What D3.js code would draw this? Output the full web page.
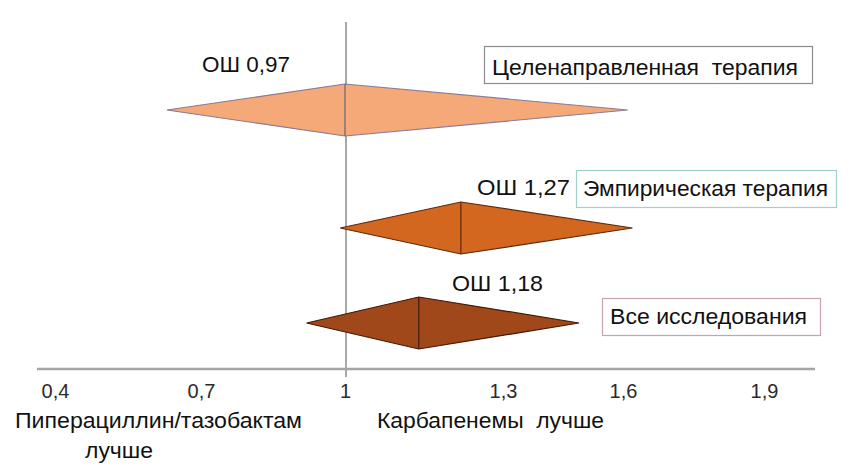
<!DOCTYPE html>
<html>
<head>
<meta charset="utf-8">
<script src="https://cdn.jsdelivr.net/npm/d3@7"></script>
<style>
  html, body { margin: 0; padding: 0; background: #fff; }
  svg { display: block; font-family: "Liberation Sans", Arial, sans-serif; }
  .tick text { font-size: 20px !important; font-family: "Liberation Sans", Arial, sans-serif; }
</style>
</head>
<body>
<svg id="chart" width="860" height="472"></svg>
<script>
// ---- data ----
const studies = ["Целенаправленная терапия", "Эмпирическая терапия", "Все исследования"];
const boxTexts = ["Целенаправленная  терапия", "Эмпирическая терапия", "Все исследования"];
const orLabels = ["ОШ 0,97", "ОШ 1,27", "ОШ 1,18"];
const ciLow = [0.63, 0.99, 0.92];
const pointEst = [1.00, 1.22, 1.14];
const ciHigh = [1.61, 1.62, 1.49];
const tickValues = [0.4, 0.7, 1, 1.3, 1.6, 1.9];
const tickLabels = ["0,4", "0,7", "1", "1,3", "1,6", "1,9"];
const leftSideLabel = ["Пиперациллин/тазобактам", "лучше"];
const rightSideLabel = "Карбапенемы  лучше";

// ---- styles / layout ----
const fills = ["#F5A878", "#D4671F", "#A1481A"];
const strokes = ["#8a7a94", "#5a2a0c", "#3e1a06"];
const midLines = ["#6e6e6e", "#6a2c0a", "#4a1e06"];
const boxStrokes = ["#8c8c8c", "#9fcfcf", "#c9a3ab"];
const halfH = 26;

const svg = d3.select("#chart");

// x: hand-drawn (non-uniform) axis reproduced with a polylinear scale
const x = d3.scaleLinear()
  .domain(tickValues)
  .range([55, 201, 345, 503, 623, 764]);

const y = d3.scaleOrdinal()
  .domain(studies)
  .range([110, 228, 323]);

const axisY = 369;

// reference vertical line (OR = 1)
svg.append("line")
  .attr("x1", x(1) + 1).attr("x2", x(1) + 1)
  .attr("y1", 22).attr("y2", axisY + 8)
  .attr("stroke", "#7a7a7a").attr("stroke-width", 1.3);

// axis baseline
svg.append("line")
  .attr("x1", x(0.4) - 18).attr("x2", x(1.9) + 51)
  .attr("y1", axisY).attr("y2", axisY)
  .attr("stroke", "#a5a5a5").attr("stroke-width", 2.5);

// axis tick labels
const axis = d3.axisBottom(x)
  .tickValues(tickValues)
  .tickFormat((d, i) => tickLabels[i])
  .tickSize(0);
const gAxis = svg.append("g")
  .attr("transform", `translate(0,${axisY})`)
  .call(axis);
gAxis.attr("font-size", 20)
  .attr("font-family", "'Liberation Sans', Arial, sans-serif");
gAxis.select(".domain").remove();
gAxis.selectAll("text")
  .attr("y", 29).attr("dy", 0)
  .attr("fill", "#2a2a2a");

// diamonds
const rows = studies.map((s, i) => ({
  study: s, lo: ciLow[i], pt: pointEst[i], hi: ciHigh[i], i
}));

const g = svg.append("g");
g.selectAll("polygon.diamond")
  .data(rows)
  .join("polygon")
  .attr("class", "diamond")
  .attr("points", d => {
    const cy = y(d.study);
    return [
      [x(d.lo), cy],
      [x(d.pt), cy - halfH],
      [x(d.hi), cy],
      [x(d.pt), cy + halfH]
    ].map(p => p.join(",")).join(" ");
  })
  .attr("fill", d => fills[d.i])
  .attr("stroke", d => strokes[d.i])
  .attr("stroke-width", 1.2)
  .attr("stroke-linejoin", "miter");

g.selectAll("line.mid")
  .data(rows)
  .join("line")
  .attr("class", "mid")
  .attr("x1", d => x(d.pt)).attr("x2", d => x(d.pt))
  .attr("y1", d => y(d.study) - halfH).attr("y2", d => y(d.study) + halfH)
  .attr("stroke", d => midLines[d.i])
  .attr("stroke-width", 1.3);

// OR labels (hand-placed like the original slide)
const orPos = [
  { x: 202, y: 72, w: 88 },
  { x: 477, y: 195, w: 93 },
  { x: 452, y: 291, w: 91 }
];
svg.selectAll("text.or")
  .data(rows)
  .join("text")
  .attr("class", "or")
  .attr("x", d => orPos[d.i].x)
  .attr("y", d => orPos[d.i].y)
  .attr("textLength", d => orPos[d.i].w)
  .attr("lengthAdjust", "spacingAndGlyphs")
  .attr("fill", "#111")
  .style("font-size", "22px")
  .text(d => orLabels[d.i]);

// study name boxes
const boxPos = [
  { x: 484, y: 46, w: 328, h: 37, tx: 492, ty: 75, tw: 306 },
  { x: 576, y: 170, w: 260, h: 37, tx: 583, ty: 196, tw: 245 },
  { x: 602, y: 298, w: 218, h: 37, tx: 610, ty: 324, tw: 197 }
];
const boxes = svg.selectAll("g.box")
  .data(rows)
  .join("g")
  .attr("class", "box");
boxes.append("rect")
  .attr("x", d => boxPos[d.i].x + 0.5)
  .attr("y", d => boxPos[d.i].y + 0.5)
  .attr("width", d => boxPos[d.i].w)
  .attr("height", d => boxPos[d.i].h)
  .attr("fill", "#fff")
  .attr("stroke", d => boxStrokes[d.i])
  .attr("stroke-width", 1.2);
boxes.append("text")
  .attr("x", d => boxPos[d.i].tx)
  .attr("y", d => boxPos[d.i].ty)
  .attr("textLength", d => boxPos[d.i].tw)
  .attr("lengthAdjust", "spacingAndGlyphs")
  .attr("fill", "#111")
  .style("font-size", "22px")
  .style("white-space", "pre")
  .text(d => boxTexts[d.i]);

// side captions
svg.append("text")
  .attr("x", 15).attr("y", 428)
  .attr("textLength", 287).attr("lengthAdjust", "spacingAndGlyphs")
  .attr("fill", "#111").style("font-size", "22px")
  .text(leftSideLabel[0]);
svg.append("text")
  .attr("x", 85).attr("y", 458)
  .attr("textLength", 68).attr("lengthAdjust", "spacingAndGlyphs")
  .attr("fill", "#111").style("font-size", "22px")
  .text(leftSideLabel[1]);
svg.append("text")
  .attr("x", 377).attr("y", 428)
  .attr("textLength", 227).attr("lengthAdjust", "spacingAndGlyphs")
  .attr("fill", "#111").style("font-size", "22px")
  .style("white-space", "pre")
  .text(rightSideLabel);
</script>
</body>
</html>
